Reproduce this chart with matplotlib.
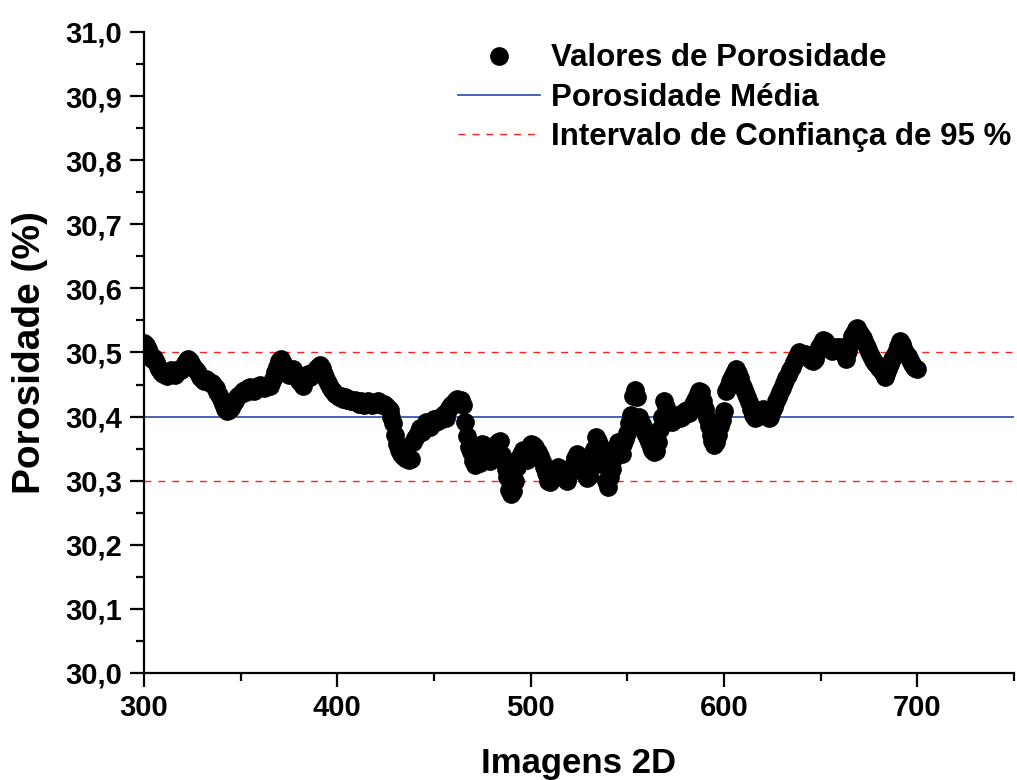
import numpy as np
import matplotlib.pyplot as plt
from matplotlib.ticker import MultipleLocator, FuncFormatter

# porosidade de cada imagem 2D (imagens 300 a 700)
imagens = np.arange(300, 701)
porosidade = [
    30.515, 30.512, 30.505, 30.498, 30.490, 30.492, 30.485, 30.478, 30.474, 30.470,
    30.466, 30.468, 30.463, 30.470, 30.472, 30.468, 30.465, 30.470, 30.474, 30.472,
    30.478, 30.483, 30.488, 30.490, 30.486, 30.480, 30.476, 30.472, 30.468, 30.462,
    30.458, 30.456, 30.459, 30.455, 30.452, 30.453, 30.448, 30.444, 30.438, 30.434,
    30.428, 30.420, 30.412, 30.408, 30.410, 30.414, 30.420, 30.425, 30.430, 30.433,
    30.436, 30.440, 30.442, 30.438, 30.444, 30.446, 30.442, 30.440, 30.445, 30.448,
    30.450, 30.447, 30.444, 30.446, 30.450, 30.448, 30.455, 30.462, 30.470, 30.478,
    30.486, 30.490, 30.484, 30.476, 30.470, 30.465, 30.470, 30.474, 30.468, 30.462,
    30.456, 30.452, 30.448, 30.455, 30.460, 30.466, 30.462, 30.468, 30.470, 30.474,
    30.478, 30.480, 30.476, 30.466, 30.458, 30.452, 30.446, 30.442, 30.440, 30.436,
    30.434, 30.430, 30.432, 30.428, 30.430, 30.426, 30.428, 30.424, 30.425, 30.426,
    30.422, 30.420, 30.424, 30.420, 30.418, 30.422, 30.425, 30.421, 30.418, 30.420,
    30.422, 30.424, 30.420, 30.418, 30.420, 30.416, 30.414, 30.410, 30.400, 30.390,
    30.372, 30.358, 30.348, 30.342, 30.338, 30.336, 30.334, 30.332, 30.334, 30.360,
    30.366, 30.372, 30.378, 30.382, 30.376, 30.386, 30.392, 30.388, 30.384, 30.392,
    30.396, 30.392, 30.398, 30.394, 30.400, 30.404, 30.398, 30.410, 30.414, 30.418,
    30.420, 30.424, 30.428, 30.422, 30.426, 30.418, 30.392, 30.370, 30.352, 30.345,
    30.330, 30.325, 30.348, 30.352, 30.328, 30.358, 30.356, 30.342, 30.336, 30.330,
    30.338, 30.345, 30.352, 30.360, 30.362, 30.340, 30.330, 30.318, 30.306, 30.286,
    30.280, 30.284, 30.300, 30.322, 30.335, 30.342, 30.348, 30.340, 30.332, 30.350,
    30.358, 30.355, 30.352, 30.346, 30.344, 30.338, 30.330, 30.322, 30.312, 30.300,
    30.298, 30.305, 30.312, 30.318, 30.322, 30.316, 30.312, 30.308, 30.302, 30.300,
    30.310, 30.318, 30.325, 30.335, 30.342, 30.338, 30.330, 30.322, 30.310, 30.304,
    30.308, 30.320, 30.336, 30.350, 30.368, 30.362, 30.354, 30.340, 30.325, 30.300,
    30.290, 30.305, 30.318, 30.335, 30.352, 30.360, 30.350, 30.342, 30.358, 30.365,
    30.375, 30.390, 30.402, 30.432, 30.442, 30.430, 30.400, 30.392, 30.385, 30.375,
    30.368, 30.360, 30.352, 30.348, 30.345, 30.346, 30.360, 30.380, 30.400, 30.425,
    30.415, 30.405, 30.398, 30.392, 30.395, 30.398, 30.402, 30.398, 30.400, 30.405,
    30.408, 30.410, 30.405, 30.412, 30.420, 30.426, 30.432, 30.440, 30.438, 30.425,
    30.412, 30.398, 30.385, 30.372, 30.362, 30.356, 30.360, 30.372, 30.385, 30.395,
    30.408, 30.440, 30.446, 30.455, 30.462, 30.468, 30.474, 30.468, 30.460, 30.452,
    30.446, 30.438, 30.430, 30.422, 30.412, 30.402, 30.398, 30.400, 30.406, 30.410,
    30.412, 30.408, 30.402, 30.398, 30.400, 30.408, 30.415, 30.424, 30.430, 30.438,
    30.445, 30.452, 30.460, 30.465, 30.472, 30.478, 30.485, 30.492, 30.498, 30.500,
    30.498, 30.495, 30.497, 30.494, 30.492, 30.488, 30.486, 30.490, 30.500, 30.508,
    30.514, 30.520, 30.518, 30.514, 30.510, 30.506, 30.502, 30.504, 30.508, 30.505,
    30.508, 30.506, 30.498, 30.490, 30.502, 30.515, 30.525, 30.530, 30.536, 30.538,
    30.532, 30.528, 30.522, 30.515, 30.508, 30.500, 30.495, 30.488, 30.484, 30.480,
    30.476, 30.472, 30.468, 30.462, 30.466, 30.474, 30.482, 30.490, 30.494, 30.500,
    30.510, 30.518, 30.514, 30.504, 30.498, 30.494, 30.488, 30.482, 30.478, 30.476,
    30.474,
]
media = 30.4
ic_inf = 30.3
ic_sup = 30.5

plt.rcParams['font.family'] = ['Liberation Sans', 'DejaVu Sans']
plt.rcParams['font.weight'] = 'bold'

fig = plt.figure(figsize=(10.17, 7.8), dpi=100)
ax = fig.add_axes([0.1416, 0.1372, 0.8555, 0.8218])

ax.plot(imagens, porosidade, 'o', color='black', markersize=13.5,
        markeredgewidth=0, label='Valores de Porosidade', zorder=3)
ax.axhline(media, color='#3a55b4', lw=1.3, label='Porosidade Média', zorder=2)
ax.axhline(ic_sup, color='#ff2020', lw=1.0, ls=(0, (5, 5)),
           label='Intervalo de Confiança de 95 %', zorder=2)
ax.axhline(ic_inf, color='#ff2020', lw=1.0, ls=(0, (5, 5)), zorder=2)

ax.set_xlim(300, 750)
ax.set_ylim(30.0, 31.0)
ax.xaxis.set_major_locator(MultipleLocator(100))
ax.xaxis.set_minor_locator(MultipleLocator(50))
ax.yaxis.set_major_locator(MultipleLocator(0.1))
ax.yaxis.set_minor_locator(MultipleLocator(0.05))
ax.yaxis.set_major_formatter(FuncFormatter(lambda v, p: f'{v:.1f}'.replace('.', ',')))
ax.set_xticks([300, 400, 500, 600, 700])

for s in ['top', 'right']:
    ax.spines[s].set_visible(False)
for s in ['left', 'bottom']:
    ax.spines[s].set_linewidth(1.6)
ax.tick_params(which='major', length=10, width=1.6, labelsize=21)
ax.tick_params(axis='y', which='major', pad=6)
ax.tick_params(axis='x', which='major', pad=5)
ax.tick_params(which='minor', length=6, width=1.6)
for lab in ax.get_xticklabels() + ax.get_yticklabels():
    lab.set_fontweight('bold')

ax.set_xlabel('Imagens 2D', fontsize=25, fontweight='bold', labelpad=18)
ax.set_ylabel('Porosidade (%)', fontsize=28, fontweight='bold', labelpad=12)

leg = ax.legend(loc='upper right', bbox_to_anchor=(1.0, 0.987), frameon=False,
                fontsize=22.5, handlelength=2.6, handletextpad=0.35,
                labelspacing=0.3, borderaxespad=0.0, borderpad=0.1)
for t in leg.get_texts():
    t.set_fontweight('bold')

fig.savefig('out.png', dpi=100)
